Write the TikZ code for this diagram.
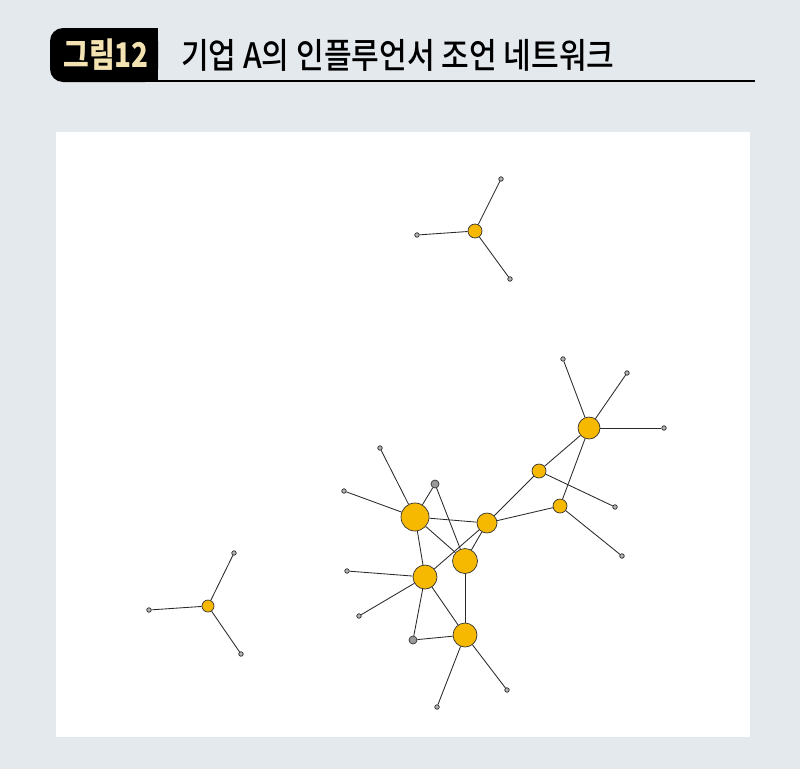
\documentclass[tikz,border=0pt]{standalone}
\usepackage{fontspec}
\usepackage{tikz}
\newfontfamily\krfont{Noto Sans CJK KR}
\newfontfamily\krmedium{Noto Sans CJK KR Medium}
\pgfdeclarelayer{background}
\pgfdeclarelayer{foreground}
\pgfsetlayers{background,main,foreground}
\definecolor{bgcol}{HTML}{E4E9EE}
\definecolor{hubcol}{HTML}{F6B900}
\definecolor{badgecol}{HTML}{F3E2B2}
\definecolor{edgecol}{HTML}{2A2A2A}
\definecolor{greycol}{HTML}{999999}
\definecolor{leafcol}{HTML}{B5B5B5}
\tikzset{
hub/.style={circle,draw=black!80,line width=0.7pt,fill=hubcol,inner sep=0pt},
greynode/.style={circle,draw=black!80,line width=0.7pt,fill=greycol,inner sep=0pt,minimum size=8pt},
leaf/.style={circle,draw=black!85,line width=0.7pt,fill=leafcol,inner sep=0pt,minimum size=4.5pt},
tie/.style={draw=edgecol,line width=0.85pt}
}

\begin{document}
\begin{tikzpicture}[x=1pt,y=-1pt]
\begin{pgfonlayer}{background}
\fill[bgcol] (0,0) rectangle (800,769);
\fill[white] (56,132) rectangle (750,737);
\end{pgfonlayer}
%title
\fill[black,rounded corners=13pt] (50,28) rectangle (158,82);
\fill[black] (120,28) rectangle (158,82);
\draw[black,line width=2pt] (158,81) -- (755,81);
\node[text=badgecol,xscale=0.82,font=\krfont\bfseries\fontsize{34}{34}\selectfont] (badge) at (106,55) {그림12};
\node[anchor=west,xscale=0.86,font=\krmedium\fontsize{35}{35}\selectfont] (title) at (178,55) {기업 A의 인플루언서 조언 네트워크};
%star top
\node[hub,minimum size=14pt] (T) at (475,231) {};
\node[leaf] (t1) at (501,179) {};
\node[leaf] (t2) at (417,235) {};
\node[leaf] (t3) at (510,279) {};
%star left
\node[hub,minimum size=12pt] (S) at (208,606) {};
\node[leaf] (s1) at (234,553) {};
\node[leaf] (s2) at (149,610) {};
\node[leaf] (s3) at (241,654) {};
%main group
\node[hub,minimum size=28pt] (A) at (415,517) {};
\node[hub,minimum size=20pt] (B) at (487,523) {};
\node[hub,minimum size=25pt] (C) at (465,561) {};
\node[hub,minimum size=24pt] (D) at (425,577) {};
\node[hub,minimum size=24pt] (E) at (465,635) {};
\node[hub,minimum size=14pt] (F) at (539,471) {};
\node[hub,minimum size=14pt] (I) at (560,506) {};
\node[hub,minimum size=22pt] (H) at (589,428) {};
\node[greynode] (G1) at (435,484) {};
\node[greynode] (G2) at (413,640) {};
\node[leaf] (a1) at (380,448) {};
\node[leaf] (a2) at (344,491) {};
\node[leaf] (d1) at (347,571) {};
\node[leaf] (d2) at (359,616) {};
\node[leaf] (e1) at (437,707) {};
\node[leaf] (e2) at (507,690) {};
\node[leaf] (f1) at (615,507) {};
\node[leaf] (i1) at (622,556) {};
\node[leaf] (h1) at (563,359) {};
\node[leaf] (h2) at (627,373) {};
\node[leaf] (h3) at (664,428) {};
\begin{pgfonlayer}{background}
\draw[tie] (T) -- (t1); \draw[tie] (T) -- (t2); \draw[tie] (T) -- (t3);
\draw[tie] (S) -- (s1); \draw[tie] (S) -- (s2); \draw[tie] (S) -- (s3);
\draw[tie] (A) -- (a1); \draw[tie] (A) -- (a2); \draw[tie] (A) -- (G1);
\draw[tie] (A) -- (B); \draw[tie] (A) -- (C); \draw[tie] (A) -- (D);
\draw[tie] (G1) -- (C);
\draw[tie] (B) -- (C); \draw[tie] (B) -- (D); \draw[tie] (B) -- (F); \draw[tie] (B) -- (I);
\draw[tie] (C) -- (E);
\draw[tie] (D) -- (d1); \draw[tie] (D) -- (d2); \draw[tie] (D) -- (G2); \draw[tie] (D) -- (E);
\draw[tie] (G2) -- (E);
\draw[tie] (E) -- (e1); \draw[tie] (E) -- (e2);
\draw[tie] (F) -- (H); \draw[tie] (F) -- (f1);
\draw[tie] (I) -- (H); \draw[tie] (I) -- (i1);
\draw[tie] (H) -- (h1); \draw[tie] (H) -- (h2); \draw[tie] (H) -- (h3);
\end{pgfonlayer}
\end{tikzpicture}
\end{document}
